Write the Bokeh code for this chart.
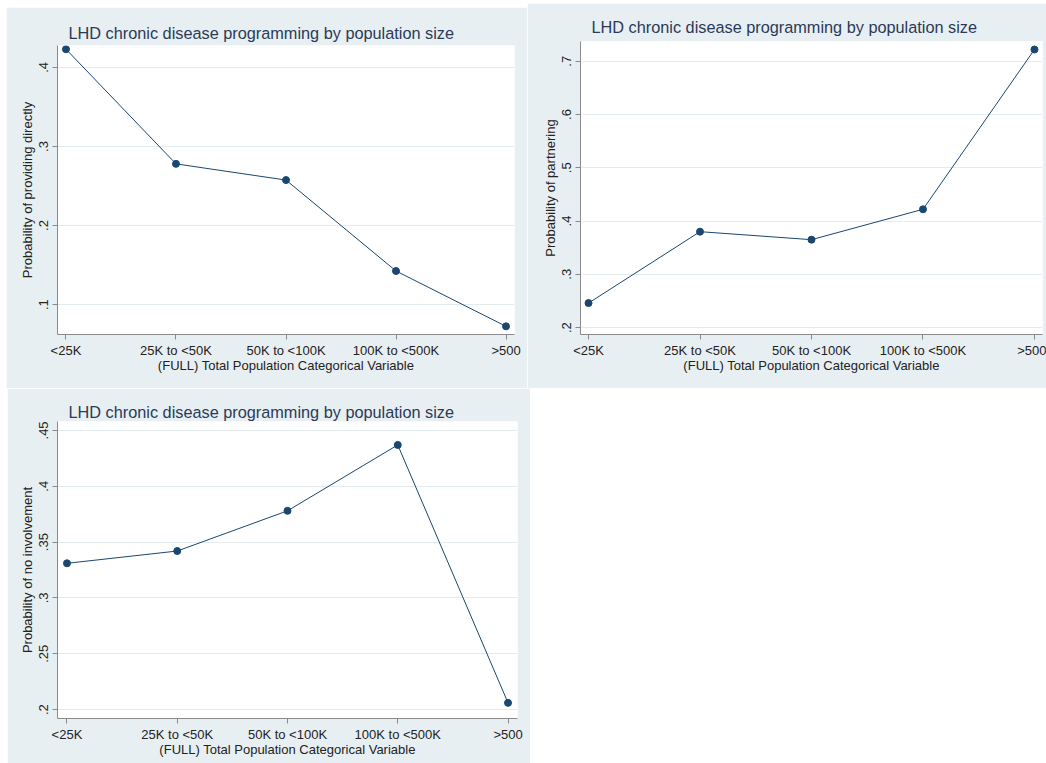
from bokeh.plotting import figure
from bokeh.models import Range1d, FixedTicker, Title
from bokeh.layouts import column, row
from bokeh.embed import file_html
from bokeh.resources import INLINE

# Population-size categories on the x axis
categories = ["<25K", "25K to <50K", "50K to <100K", "100K to <500K", ">500"]

# Predicted probabilities for each programming mode
prob_direct = [0.423, 0.278, 0.2575, 0.1425, 0.0725]
prob_partner = [0.246, 0.380, 0.365, 0.422, 0.722]
prob_none = [0.331, 0.342, 0.378, 0.437, 0.206]

# Y tick values for each panel
ticks_direct = [0.1, 0.2, 0.3, 0.4]
ticks_partner = [0.2, 0.3, 0.4, 0.5, 0.6, 0.7]
ticks_none = [0.2, 0.25, 0.3, 0.35, 0.4, 0.45]

title_text = "LHD chronic disease programming by population size"
x_title = "(FULL) Total Population Categorical Variable"

BG = "#e8eff2"
NAVY = "#1a476f"
TITLE_COLOR = "#2a3a58"
AXIS_COLOR = "#8a8a8a"
FONT = "Liberation Sans"


def tick_label(v):
    s = f"{v:g}"
    return s[1:] if s.startswith("0.") else s


def panel(values, ticks, ylabel, y_lo, y_hi, width, height, borders, xpad, title_standoff):
    left, right, top, bottom = borders
    x = list(range(len(categories)))
    p = figure(width=width, height=height, output_backend="svg", toolbar_location=None,
               x_range=Range1d(-xpad, len(categories) - 1 + xpad),
               y_range=Range1d(y_lo, y_hi),
               min_border_left=left, min_border_right=right,
               min_border_top=top, min_border_bottom=bottom,
               background_fill_color="white", border_fill_color=BG,
               outline_line_color=None)
    p.title = Title(text=title_text, align="left", offset=11, standoff=title_standoff,
                    text_font=FONT, text_font_size="16.3px", text_font_style="normal",
                    text_color=TITLE_COLOR)

    # x axis: one tick per population category
    p.xaxis.ticker = FixedTicker(ticks=x)
    p.xaxis.major_label_overrides = {i: c for i, c in zip(x, categories)}
    p.xaxis.axis_label = x_title
    p.xaxis.minor_tick_line_color = None

    # y axis: Stata-style leading-dot labels, rotated
    p.yaxis.ticker = FixedTicker(ticks=ticks)
    p.yaxis.major_label_overrides = {t: tick_label(t) for t in ticks}
    p.yaxis.major_label_orientation = "vertical"
    p.yaxis.axis_label = ylabel
    p.yaxis.minor_tick_line_color = None

    for ax in (p.xaxis, p.yaxis):
        ax.axis_line_color = AXIS_COLOR
        ax.major_tick_line_color = AXIS_COLOR
        ax.major_tick_out = 5
        ax.major_tick_in = 0
        ax.major_label_text_font = FONT
        ax.major_label_text_font_size = "13px"
        ax.major_label_text_color = "#222222"
        ax.axis_label_text_font = FONT
        ax.axis_label_text_font_size = "13px"
        ax.axis_label_text_font_style = "normal"
        ax.axis_label_text_color = "#222222"
    p.xaxis.major_label_standoff = 3
    p.xaxis.axis_label_standoff = -3
    p.yaxis.major_label_standoff = 4
    p.yaxis.axis_label_standoff = 2

    p.xgrid.visible = False
    p.ygrid.ticker = FixedTicker(ticks=ticks)
    p.ygrid.grid_line_color = "#e3edf1"
    p.ygrid.grid_line_width = 1

    p.line(x, values, line_color=NAVY, line_width=1)
    p.scatter(x, values, size=7, fill_color=NAVY, line_color=NAVY)
    return p


p1 = panel(prob_direct, ticks_direct, "Probability of providing directly",
           0.0622, 0.4277, 521, 381, (51, 13, 38, 53), 0.077, 8)
p2 = panel(prob_partner, ticks_partner, "Probability of partnering",
           0.187, 0.737, 519, 385, (53, 4, 35, 54), 0.072, 11)
p3 = panel(prob_none, ticks_none, "Probability of no involvement",
           0.192, 0.458, 523, 375, (50, 13, 33, 45), 0.086, 2)

p1.margin = (7, 0, 0, 6)
p2.margin = (3, 0, 0, 0)
p3.margin = (0, 0, 0, 7)

layout = column(row(p1, p2, spacing=0), p3, spacing=0)

open("out.html", "w").write(file_html(layout, INLINE))
